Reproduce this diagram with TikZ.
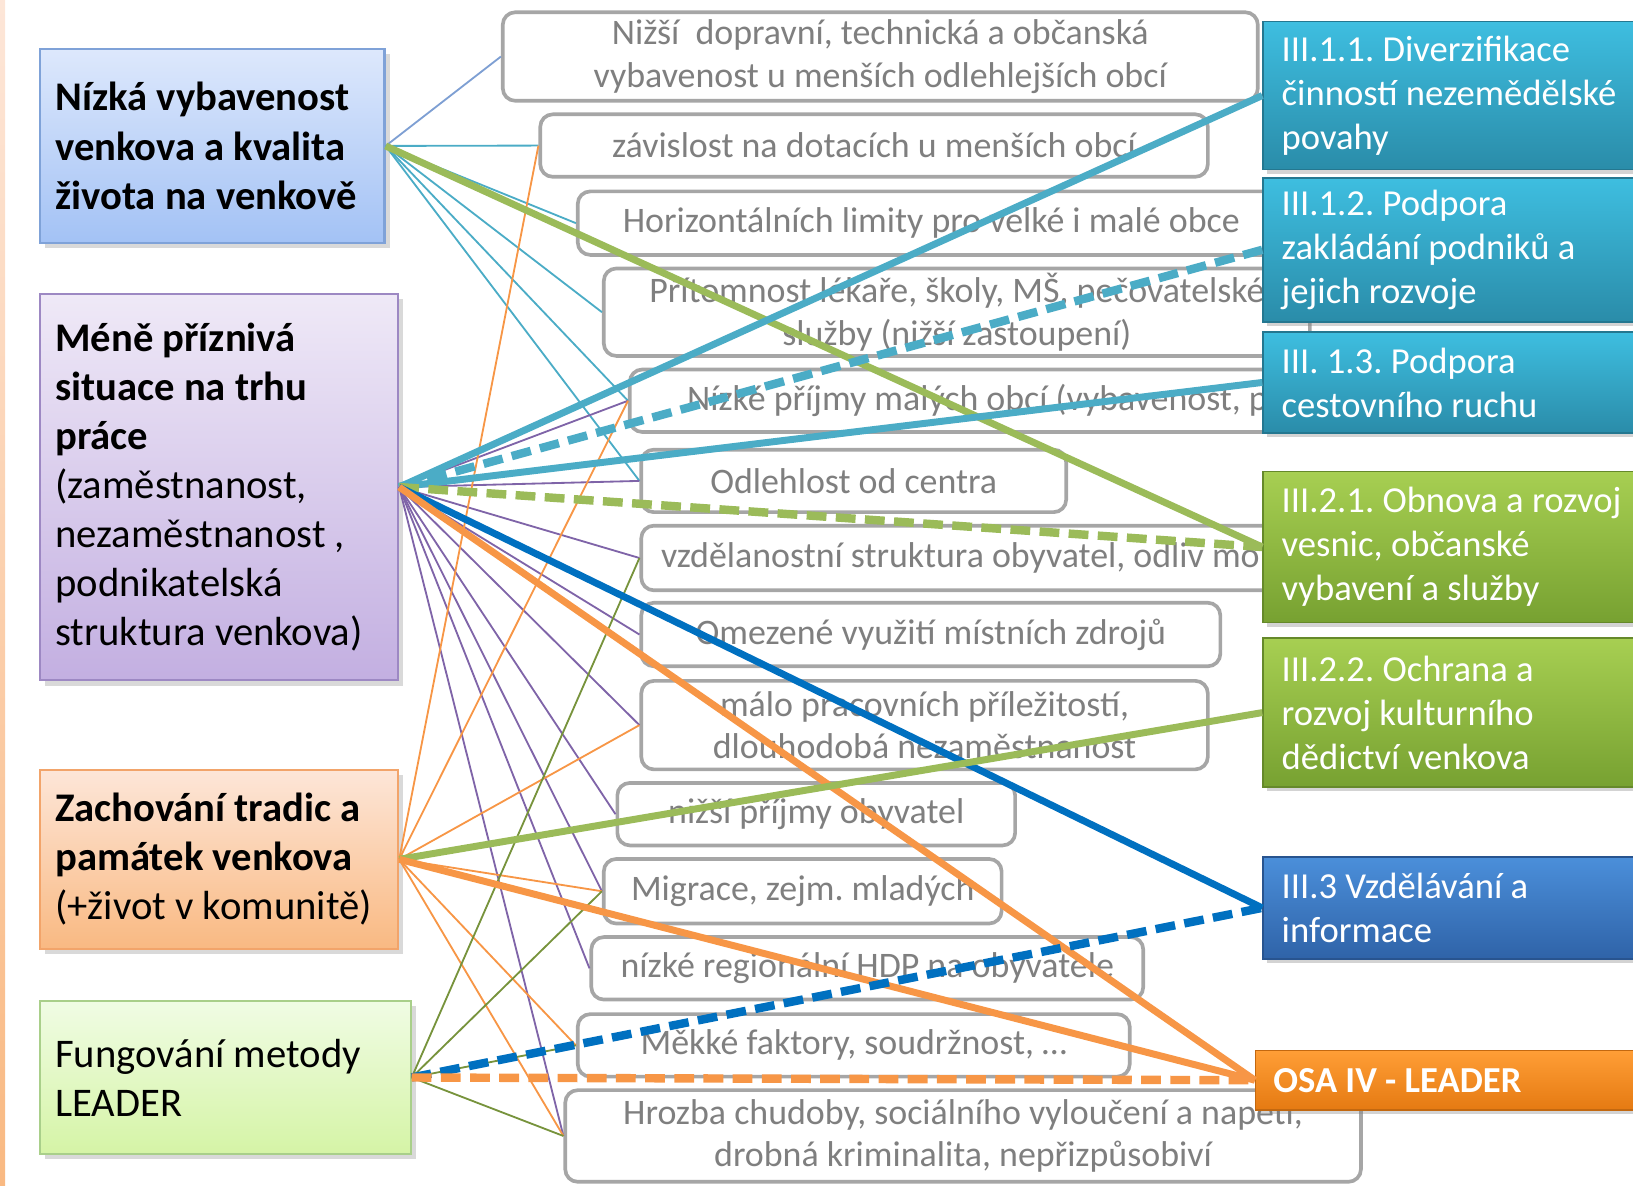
\documentclass[tikz,border=0pt]{standalone}
\usepackage{fontspec}
\setmainfont{Carlito}
\usetikzlibrary{shadows}

\definecolor{tealline}{HTML}{4BACC6}
\definecolor{greenline}{HTML}{9BBB59}
\definecolor{blueline}{HTML}{0070C0}
\definecolor{orangeline}{HTML}{F79646}
\definecolor{purplethin}{HTML}{7F64A8}
\definecolor{greenthin}{HTML}{77933C}
\definecolor{bluethin}{HTML}{7E9FD3}
\definecolor{midgray}{HTML}{A6A6A6}
\definecolor{midtext}{HTML}{7F7F7F}
% box fills
\definecolor{bluetop}{HTML}{DDE8FC}
\definecolor{bluebot}{HTML}{A3C2F5}
\definecolor{blueedge}{HTML}{7FA2D8}
\definecolor{viotop}{HTML}{EFE9F7}
\definecolor{viobot}{HTML}{C3AFE1}
\definecolor{vioedge}{HTML}{9D88C3}
\definecolor{orgtop}{HTML}{FDE6D8}
\definecolor{orgbot}{HTML}{F9B982}
\definecolor{orgedge}{HTML}{F2A46A}
\definecolor{lgrtop}{HTML}{F0FCE4}
\definecolor{lgrbot}{HTML}{D5F4A6}
\definecolor{lgredge}{HTML}{A9CF8A}
\definecolor{tealtop}{HTML}{3EBEE0}
\definecolor{tealbot}{HTML}{2A8CA9}
\definecolor{grntop}{HTML}{A7CF52}
\definecolor{grnbot}{HTML}{77A131}
\definecolor{blutop}{HTML}{4B8FDA}
\definecolor{blubot}{HTML}{2F63A8}
\definecolor{osatop}{HTML}{FF9E36}
\definecolor{osabot}{HTML}{E57A12}

\tikzset{
  leftbox/.style={anchor=north west, draw, line width=0.6pt, inner xsep=0.15cm,
    align=flush left, font=\fontsize{11.1}{13.4}\selectfont,
    drop shadow={shadow xshift=0.05cm, shadow yshift=-0.05cm, opacity=0.3}},
  midbox/.style={anchor=north west, draw=midgray, line width=1pt, fill=white,
    rounded corners=0.12cm, align=center, text=midtext, inner ysep=0pt,
    font=\fontsize{9.8}{11.7}\selectfont},
  rightbox/.style={anchor=north west, top color=#1top, bottom color=#1bot,
    draw=#1bot!85!black, line width=0.4pt,
    text=white, align=flush left, inner xsep=0.18cm, text width=3.6cm,
    font=\fontsize{10}{12}\selectfont,
    drop shadow={shadow xshift=0.04cm, shadow yshift=-0.04cm, opacity=0.35}},
  thinline/.style={line width=0.5pt},
  thickline/.style={line width=1.9pt},
  dashline/.style={line width=2.3pt, dash pattern=on 0.19cm off 0.09cm}
}

\begin{document}
\frenchspacing
\begin{tikzpicture}[x=0.01cm, y=-0.01cm]
\useasboundingbox (0,0) rectangle (1568,1138);
% left strip
\shade[top color=orgtop, middle color=pink!30, bottom color=orgbot] (0,0) rectangle (5,1138);

% Problems (left)
\node[leftbox, top color=bluetop, bottom color=bluebot, draw=blueedge, text width=3.01cm, minimum height=1.86cm] (nizka) at (37,46)
  {\textbf{Nízká vybavenost}\\\textbf{venkova a kvalita}\\\textbf{života na venkově}};
\node[leftbox, top color=viotop, bottom color=viobot, draw=vioedge, text width=3.14cm, minimum height=3.71cm] (mene) at (37,281)
  {\textbf{Méně příznivá}\\\textbf{situace na trhu}\\\textbf{práce}\\(zaměstnanost,\\nezaměstnanost ,\\podnikatelská\\struktura venkova)};
\node[leftbox, top color=orgtop, bottom color=orgbot, draw=orgedge, text width=3.14cm, minimum height=1.72cm] (tradice) at (37,738)
  {\textbf{Zachování tradic a}\\\textbf{památek venkova}\\(+život v komunitě)};
\node[leftbox, top color=lgrtop, bottom color=lgrbot, draw=lgredge, text width=3.26cm, minimum height=1.47cm] (leader) at (37,960)
  {Fungování metody\\LEADER};

% Weaknesses (middle)
\foreach \n/\x/\y/\w/\h/\lbl in {
  m1/481/10/725/85/{Nižší\ \ dopravní, technická a občanská\\vybavenost u menších odlehlejších obcí},
  m2/517/108/641/60/{závislost na dotacích u menších obcí},
  m3/553/182/679/61/{Horizontálních limity pro velké i malé obce},
  m4/578/256/678/84/{Přítomnost lékaře, školy, MŠ, pečovatelské\\služby (nižší zastoupení)},
  m6/614/430/408/60/{Odlehlost od centra},
  m8/614/577/556/61/{Omezené využití místních zdrojů},
  m9/614/652/544/85/{málo pracovních příležitostí,\\dlouhodobá nezaměstnanost},
  m10/591/750/382/60/{nižší příjmy obyvatel},
  m11/578/823/382/62/{Migrace, zejm. mladých},
  m12/566/898/530/60/{nízké regionální HDP na obyvatele},
  m13/553/972/530/60/{Měkké faktory, soudržnost, …},
  m14/541/1045/764/88/{Hrozba chudoby, sociálního vyloučení a napětí,\\drobná kriminalita, nepřizpůsobiví}}
  \node[midbox, minimum width=\w*0.01cm, minimum height=\h*0.01cm] (\n) at (\x,\y) {\lbl};
\node[midbox, minimum height=0.6cm, text width=7.46cm, inner xsep=0.55cm, align=flush left] (m5) at (603,353)
  {Nízké příjmy malých obcí (vybavenost, p};
\node[midbox, minimum height=0.62cm, text width=6.5cm, inner xsep=0.19cm, align=flush left] (m7) at (614,503)
  {vzdělanostní struktura obyvatel, odliv mo};

% Measures (right)
\node[rightbox=teal, minimum height=1.42cm] (r1) at (1212,20)
  {III.1.1. Diverzifikace\\činností nezemědělské\\povahy};
\node[rightbox=teal, minimum height=1.38cm] (r2) at (1212,170)
  {III.1.2. Podpora\\zakládání podniků a\\jejich rozvoje};
\node[rightbox=teal, minimum height=0.97cm] (r3) at (1212,318)
  {III. 1.3. Podpora\\cestovního ruchu};
\node[rightbox=grn, minimum height=1.45cm] (r4) at (1212,452)
  {III.2.1. Obnova a rozvoj\\vesnic, občanské\\vybavení a služby};
\node[rightbox=grn, minimum height=1.43cm] (r5) at (1212,612)
  {III.2.2. Ochrana a\\rozvoj kulturního\\dědictví venkova};
\node[rightbox=blu, minimum height=0.98cm] (r6) at (1212,822)
  {III.3 Vzdělávání a\\informace};
\node[rightbox=osa, minimum height=0.57cm, inner xsep=0.17cm, font=\fontsize{10}{12}\selectfont\bfseries] (r7) at (1205,1008)
  {OSA IV - LEADER};

% thin links to weaknesses
\draw[thinline, bluethin] (nizka.east) -- (m1.west);
\foreach \m in {m2,m3,m4,m5,m6}
  \draw[thinline, tealline] (nizka.east) -- (\m.west);
\foreach \m in {m5,m6,m7,m8,m9,m10,m11,m12,m14}
  \draw[thinline, purplethin] (mene.east) -- (\m.west);
\foreach \m in {m2,m5,m9,m11,m13,m14}
  \draw[thinline, orangeline] (tradice.east) -- (\m.west);
\foreach \m in {m7,m11,m13,m14}
  \draw[thinline, greenthin] (leader.east) -- (\m.west);

% thick links to measures
\draw[thickline, greenline] (nizka.east) -- (r4.west);
\draw[thickline, tealline] (mene.east) -- (r1.west);
\draw[dashline, tealline] (mene.east) -- (r2.west);
\draw[thickline, tealline] (mene.east) -- (r3.west);
\draw[dashline, greenline] (mene.east) -- (r4.west);
\draw[thickline, blueline] (mene.east) -- (r6.west);
\draw[thickline, orangeline] (mene.east) -- (r7.west);
\draw[thickline, greenline] (tradice.east) -- (r5.west);
\draw[thickline, orangeline] (tradice.east) -- (r7.west);
\draw[dashline, blueline] (leader.east) -- (r6.west);
\draw[dashline, orangeline] (leader.east) -- (r7.west);
\end{tikzpicture}
\end{document}
